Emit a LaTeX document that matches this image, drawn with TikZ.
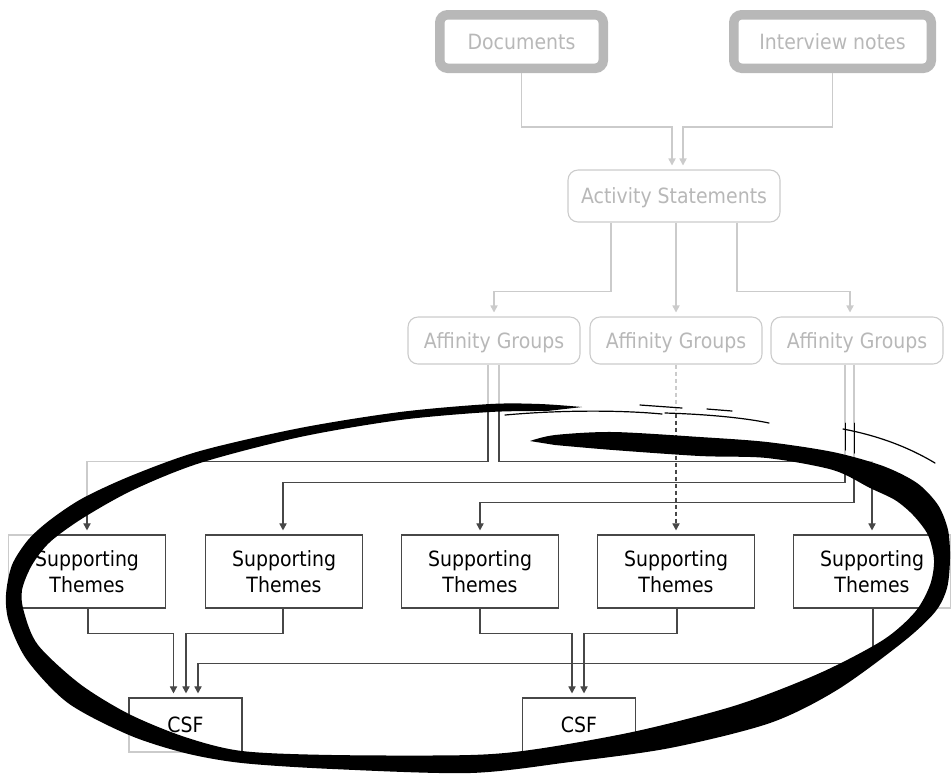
\documentclass[tikz,border=0pt]{standalone}
\usepackage{fontspec}
\setmainfont{DejaVu Sans}[FakeStretch=0.9]
\usetikzlibrary{arrows.meta,calc}
\definecolor{ln}{HTML}{474747}
\begin{document}
\begin{tikzpicture}[x=0.5pt,y=-0.5pt,
  font=\fontsize{10.5pt}{13pt}\selectfont,
  every node/.style={inner sep=0pt, text depth=0pt},
  srcbox/.style={draw=black, line width=4.75pt, rounded corners=4pt, fill=white, minimum height=26.75pt},
  roundbox/.style={draw=ln, line width=0.55pt, rounded corners=5pt, fill=white},
  theme/.style={draw=ln, line width=0.6pt, fill=white, minimum width=78.5pt, minimum height=36.5pt, align=center},
  csfbox/.style={draw=ln, line width=0.6pt, fill=white, minimum width=56.5pt, minimum height=27pt},
  conn/.style={draw=ln, line width=0.55pt, -{Triangle[length=3.5pt,width=3.6pt]}, shorten >=2pt},
  pen/.style={draw=black, line width=0.6pt, line cap=round},
]
\useasboundingbox (0,0) rectangle (951,773);

% sources
\node[srcbox, minimum width=81.75pt] (docs) at (521.5,41.5) {Documents};
\node[srcbox, minimum width=98.75pt] (notes) at (832.5,41.5) {Interview notes};

% statements and groups
\node[roundbox, minimum width=106pt, minimum height=26pt] (act) at (674,196) {Activity Statements};
\node[roundbox, minimum width=86pt, minimum height=23.5pt] (ag1) at (494,340.5) {Affinity Groups};
\node[roundbox, minimum width=86pt, minimum height=23.5pt] (ag2) at (676,340.5) {Affinity Groups};
\node[roundbox, minimum width=86pt, minimum height=23.5pt] (ag3) at (857,340.5) {Affinity Groups};

% supporting themes
\node[theme] (st1) at (87,571.5)  {Supporting\\Themes};
\node[theme] (st2) at (284,571.5) {Supporting\\Themes};
\node[theme] (st3) at (480,571.5) {Supporting\\Themes};
\node[theme] (st4) at (676,571.5) {Supporting\\Themes};
\node[theme] (st5) at (872,571.5) {Supporting\\Themes};

% critical success factors
\node[csfbox] (csf1) at (185.5,725) {CSF};
\node[csfbox] (csf2) at (579,725) {CSF};

% connectors
\draw[conn] (docs.south) -- ++(0,54) -| ($(act.north)+(-2,0)$);
\draw[conn] (notes.south) -- ++(0,54) -| ($(act.north)+(9,0)$);
\draw[conn] ($(act.south)+(-63,0)$) -- ++(0,69) -| (ag1.north);
\draw[conn] ($(act.south)+(2,0)$) -- (ag2.north);
\draw[conn] ($(act.south)+(63,0)$) -- ++(0,69) -| ($(ag3.north)+(-7,0)$);

\draw[conn] ($(ag1.south)+(-6,0)$) -- ++(0,97) -| (st1.north);
\draw[conn] ($(ag1.south)+(5,0)$) -- ++(0,97) -| (st5.north);
\draw[conn] ($(ag3.south)+(-12,0)$) -- ++(0,118) -| ($(st2.north)+(-1,0)$);
\draw[conn] ($(ag3.south)+(-3,0)$) -- ++(0,138) -| (st3.north);
\draw[conn, dash pattern=on 2pt off 1.5pt] (ag2.south) -- (st4.north);

\draw[conn] ($(st1.south)+(1,0)$) -- ++(0,25) -| ($(csf1.north)+(-12,0)$);
\draw[conn] ($(st2.south)+(-1,0)$) -- ++(0,25) -| ($(csf1.north)+(0.5,0)$);
\draw[conn] ($(st5.south)+(1,0)$) -- ++(0,55) -| ($(csf1.north)+(12.5,0)$);
\draw[conn] (st3.south) -- ++(0,25) -| ($(csf2.north)+(-7,0)$);
\draw[conn] ($(st4.south)+(1,0)$) -- ++(0,25) -| ($(csf2.north)+(5,0)$);

% fade everything outside the hand-drawn loop
\fill[white, fill opacity=0.72, even odd rule]
  (0,0) rectangle (951,773)
  plot[smooth cycle] coordinates {(853,467) (883,476) (912,495) (930,520) (941,550)
    (941,575) (932,600) (910,625) (893,642) (828,680) (755,712) (655,737) (555,752)
    (470,763) (333,761) (233,756) (140,730) (74,693) (31,652) (16,615) (14,590)
    (24,560) (50,532) (79,510) (126,485) (176,465) (250,445) (350,424) (440,412)
    (540,408) (660,413) (768,424) (810,452)};

% the marker loop
\fill[black]
  plot[smooth, tension=0.5] coordinates {(530,441) (555,435) (613,432) (700,437)
    (767,442) (833,452) (883,466) (917,483) (938,505) (948,530) (950,558) (947,588)
    (935,612) (903,642) (837,690) (770,723) (670,748) (570,762) (470,773) (333,769)
    (242,763) (185,753) (129,735) (68,703) (27,660) (9,622) (6,595) (12,565) (28,540)
    (50,520) (83,498) (133,475) (200,451) (300,428) (400,412) (490,404) (540,404)
    (582,407)}
  -- plot[smooth, tension=0.5] coordinates {(547,411) (490,412) (400,420) (300,437)
    (200,463) (133,490) (83,518) (50,542) (32,565) (22,590) (24,612) (38,645)
    (80,684) (129,714) (185,737) (242,751) (333,755) (470,755) (537,749) (637,731)
    (737,705) (820,673) (883,640) (915,612) (930,585) (934,560) (928,535) (913,515)
    (895,500) (870,488) (833,470) (767,458) (700,456) (613,450) (555,445)}
  -- cycle;

% loose pen strokes
\draw[pen] (505,415) .. controls (560,410) and (620,410) .. (662,414);
\draw[pen] (640,405) -- (682,408);
\draw[pen] (665,413) .. controls (700,414) and (740,417) .. (769,423);
\draw[pen] (707,409) -- (732,411);
\draw[pen] (843,429) .. controls (880,436) and (910,448) .. (935,463);
\draw[pen, line width=0.5pt] (845,423) -- (845,450);
\draw[pen, line width=0.5pt] (854,423) -- (854,453);
\end{tikzpicture}
\end{document}
